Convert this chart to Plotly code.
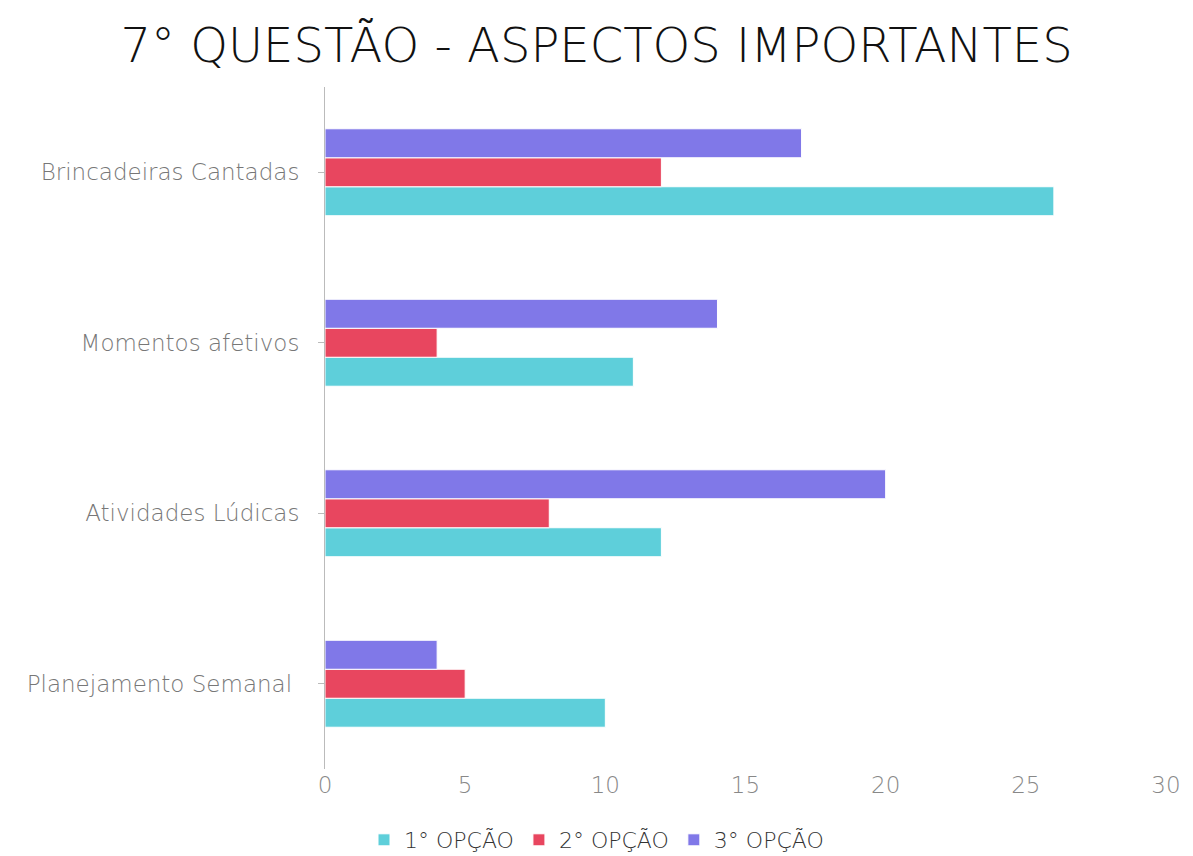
import plotly.graph_objects as go

categories = ["Planejamento Semanal ", "Atividades Lúdicas", "Momentos afetivos", "Brincadeiras Cantadas"]
series_names = ["1° OPÇÃO", "2° OPÇÃO", "3° OPÇÃO"]
opcao1 = [10, 12, 11, 26]
opcao2 = [5, 8, 4, 12]
opcao3 = [4, 20, 14, 17]
colors = ["#5ECFDA", "#E8465F", "#8078E8"]
x_ticks = [0, 5, 10, 15, 20, 25, 30]

FONT = "DejaVu Sans"

fig = go.Figure()
for name, vals, col in zip(series_names, [opcao1, opcao2, opcao3], colors):
    fig.add_trace(go.Bar(
        y=categories, x=vals, name=name, orientation="h",
        marker=dict(color=col, line=dict(color="white", width=1)),
    ))

fig.update_layout(
    width=1193, height=856,
    margin=dict(l=325, r=21, t=87, b=87),
    paper_bgcolor="white", plot_bgcolor="white",
    barmode="group", bargap=0.49, bargroupgap=0.0,
    title=dict(text="7° QUESTÃO - ASPECTOS IMPORTANTES", x=0.5, xanchor="center",
               y=1 - 45 / 856, yanchor="middle",
               font=dict(family=FONT, size=48, color="#111111", weight=300)),
    font=dict(family=FONT, color="#777777"),
    xaxis=dict(range=[0, 30], tickvals=x_ticks, showgrid=False, zeroline=False,
               showline=False, ticks="", tickfont=dict(size=23, color="#888888", weight=300),
               ticklabelstandoff=0),
    yaxis=dict(showgrid=False, zeroline=False, showline=True, linecolor="#BBBBBB", linewidth=1,
               ticks="outside", ticklen=6, tickcolor="#BBBBBB",
               tickfont=dict(size=23, color="#777777", weight=300), ticklabelstandoff=14),
    legend=dict(orientation="h", xref="container", x=0.5, xanchor="center", yref="container",
                y=(856 - 840) / 856, yanchor="middle",
                font=dict(size=22, color="#333333", weight=300), traceorder="normal",
                itemwidth=30),
    showlegend=True,
)

fig.write_html("out.html", post_script="document.body.style.margin='0';",
               config={"displayModeBar": False})
